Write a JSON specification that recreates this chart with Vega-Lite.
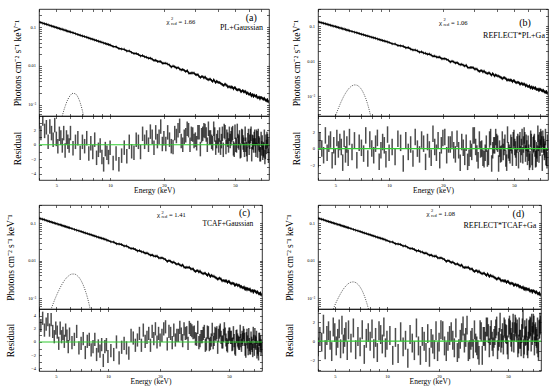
{
"$schema":"https://vega.github.io/schema/vega-lite/v6.json",
"padding":{"left":4,"top":6,"right":0,"bottom":0},
"autosize":{"type":"pad"},
"config":{
 "font":"Liberation Serif",
 "view":{"stroke":"black","strokeWidth":0.8},
 "axis":{"domain":false,"grid":false,"tickSize":-2.5,"tickColor":"black","tickWidth":0.6,"labelFontSize":4.5,"labelColor":"black","labelFont":"Liberation Serif","titleFont":"Liberation Serif","titleFontWeight":"normal","titleColor":"black","labelOverlap":false,"labelFlush":false},
 "text":{"font":"Liberation Serif","color":"black"}
},
"datasets":{
"s":[
{"e":4,"f":0.135,"a":3.2,"b":-1.3,"c":4.7,"d":-0.6},
{"e":4.1,"f":0.130,"a":1.6,"b":1.0,"c":2.5,"d":0.5},
{"e":4.2,"f":0.1257,"a":3.6,"b":0.0,"c":3.6,"d":-0.1},
{"e":4.3,"f":0.1215,"a":1.9,"b":-0.8,"c":1.8,"d":1.8},
{"e":4.4,"f":0.1175,"a":2.4,"b":1.6,"c":2.7,"d":-0.9},
{"e":4.5,"f":0.1137,"a":0.4,"b":-0.5,"c":3.4,"d":0.6},
{"e":4.6,"f":0.1101,"a":2.5,"b":0.6,"c":1.8,"d":1.1},
{"e":4.7,"f":0.1066,"a":1.6,"b":1.1,"c":3.4,"d":0.1},
{"e":4.8,"f":0.1034,"a":0.7,"b":-1.4,"c":1.6,"d":-1.1},
{"e":4.9,"f":0.1003,"a":2.7,"b":0.4,"c":0.8,"d":1.5},
{"e":5.0,"f":0.0974,"a":0.8,"b":-1.0,"c":2.1,"d":0.9},
{"e":5.1,"f":0.0946,"a":-0.2,"b":1.3,"c":1.5,"d":-0.5},
{"e":5.2,"f":0.0919,"a":1.5,"b":-0.1,"c":-0.2,"d":0.3},
{"e":5.3,"f":0.0894,"a":1.0,"b":0.8,"c":2.1,"d":1.3},
{"e":5.4,"f":0.0870,"a":-0.1,"b":0.2,"c":0.8,"d":-0.8},
{"e":5.5,"f":0.0846,"a":1.6,"b":-1.7,"c":1.3,"d":1.7},
{"e":5.6,"f":0.0824,"a":-0.8,"b":1.2,"c":0.1,"d":-0.3},
{"e":5.7,"f":0.0803,"a":1.0,"b":-0.7,"c":1.8,"d":0.4},
{"e":5.8,"f":0.0782,"a":0.4,"b":0.5,"c":0.9,"d":1.0},
{"e":5.9,"f":0.0763,"a":-0.1,"b":-1.1,"c":-0.7,"d":-1.0},
{"e":6.0,"f":0.0744,"a":1.6,"b":1.4,"c":1.2,"d":1.2},
{"e":6.2,"f":0.0709,"a":-0.5,"b":-0.4,"c":-0.1,"d":-0.2},
{"e":6.4,"f":0.0676,"a":0.4,"b":1.0,"c":0.4,"d":1.4},
{"e":6.6,"f":0.0645,"a":0.9,"b":-1.4,"c":1.6,"d":-0.9},
{"e":6.8,"f":0.0617,"a":-1.1,"b":0.7,"c":-0.9,"d":0.5},
{"e":7.0,"f":0.0591,"a":0.4,"b":0.1,"c":-0.2,"d":-0.6},
{"e":7.2,"f":0.0567,"a":-0.2,"b":-0.6,"c":0.5,"d":1.2},
{"e":7.4,"f":0.0544,"a":0.9,"b":1.6,"c":-1.6,"d":-1.4},
{"e":7.6,"f":0.0522,"a":-1.2,"b":-1.2,"c":0.1,"d":0.3},
{"e":7.8,"f":0.0502,"a":0.2,"b":1.1,"c":0.4,"d":0.9},
{"e":8.0,"f":0.0484,"a":-1.0,"b":0.0,"c":-1.2,"d":0.0},
{"e":8.2,"f":0.0466,"a":0.7,"b":-0.8,"c":-0.7,"d":1.3},
{"e":8.4,"f":0.0449,"a":-1.8,"b":0.6,"c":0.4,"d":-0.8},
{"e":8.6,"f":0.0433,"a":-0.7,"b":1.3,"c":-1.9,"d":0.4},
{"e":8.8,"f":0.0418,"a":-0.1,"b":-1.6,"c":-0.6,"d":-1.2},
{"e":9.0,"f":0.0404,"a":-1.7,"b":-0.2,"c":-1.4,"d":1.1},
{"e":9.2,"f":0.0391,"a":-2.7,"b":0.8,"c":-0.4,"d":0.7},
{"e":9.4,"f":0.0379,"a":-0.6,"b":0.4,"c":-2.8,"d":-0.3},
{"e":9.6,"f":0.0367,"a":-1.1,"b":-1.3,"c":-0.7,"d":1.5},
{"e":9.8,"f":0.0355,"a":-1.7,"b":1.7,"c":-0.4,"d":-0.7},
{"e":10,"f":0.0344,"a":-0.4,"b":-0.5,"c":-2.2,"d":0.1},
{"e":10.4,"f":0.0316,"a":-2.5,"b":0.2,"c":-1.3,"d":0.6},
{"e":10.8,"f":0.0311,"a":-1.2,"b":-1.0,"c":-1.9,"d":-1.5},
{"e":11.2,"f":0.0279,"a":-2.7,"b":1.2,"c":0.0,"d":0.4},
{"e":11.6,"f":0.0274,"a":-1.5,"b":0.7,"c":-2.4,"d":-1.3},
{"e":12.0,"f":0.0267,"a":-0.4,"b":-1.8,"c":-0.8,"d":1.0},
{"e":12.4,"f":0.0243,"a":-1.6,"b":1.0,"c":-0.2,"d":-0.6},
{"e":12.8,"f":0.0244,"a":0.4,"b":-0.4,"c":-0.9,"d":0.1},
{"e":13.2,"f":0.0223,"a":-0.9,"b":0.5,"c":-1.7,"d":-1.8},
{"e":13.6,"f":0.0208,"a":-1.1,"b":-1.2,"c":1.0,"d":0.7},
{"e":14.0,"f":0.0209,"a":0.7,"b":1.4,"c":0.6,"d":-0.2},
{"e":14.4,"f":0.0197,"a":0.4,"b":0.0,"c":-0.5,"d":-1.0},
{"e":14.8,"f":0.0180,"a":-1.0,"b":-0.7,"c":0.3,"d":1.4},
{"e":15.2,"f":0.0185,"a":1.5,"b":1.1,"c":1.3,"d":-0.5},
{"e":15.6,"f":0.0172,"a":0.4,"b":0.6,"c":-0.5,"d":-1.5},
{"e":16.0,"f":0.0168,"a":1.0,"b":-1.6,"c":1.8,"d":0.5},
{"e":16.4,"f":0.0157,"a":0.0,"b":0.8,"c":0.1,"d":0.0},
{"e":16.8,"f":0.0159,"a":1.8,"b":-0.1,"c":0.7,"d":-1.2},
{"e":17.2,"f":0.0149,"a":1.1,"b":-1.1,"c":1.3,"d":0.8},
{"e":17.6,"f":0.0138,"a":-0.4,"b":1.8,"c":-0.5,"d":-1.7},
{"e":18.0,"f":0.0141,"a":1.7,"b":0.2,"c":1.6,"d":0.3},
{"e":18.4,"f":0.0131,"a":0.5,"b":-0.5,"c":0.5,"d":-0.3},
{"e":18.8,"f":0.0130,"a":1.1,"b":1.0,"c":2.0,"d":-0.9},
{"e":19.2,"f":0.0131,"a":2.5,"b":-1.4,"c":0.0,"d":1.1},
{"e":19.6,"f":0.0118,"a":0.1,"b":0.4,"c":1.3,"d":-1.1},
{"e":20,"f":0.0117,"a":0.9,"b":1.3,"c":0.3,"d":-0.1},
{"e":21,"f":0.0112,"a":1.7,"b":-0.8,"c":2.0,"d":1.1},
{"e":22,"f":0.00939,"a":-0.2,"b":0.5,"c":-0.3,"d":-1.1},
{"e":23,"f":0.00958,"a":1.6,"b":-0.2,"c":1.3,"d":0.6},
{"e":24,"f":0.00912,"a":2.0,"b":1.2,"c":1.8,"d":0.1},
{"e":25,"f":0.00793,"a":0.5,"b":-1.7,"c":1.0,"d":1.4},
{"e":26,"f":0.00768,"a":1.1,"b":0.1,"c":2.2,"d":-0.8},
{"e":27,"f":0.00765,"a":2.2,"b":0.7,"c":0.2,"d":0.9},
{"e":28,"f":0.00647,"a":0.0,"b":-1.1,"c":1.3,"d":-0.2},
{"e":29,"f":0.00656,"a":1.4,"b":-0.4,"c":-0.2,"d":1.7},
{"e":30,"f":0.00600,"a":0.7,"b":1.6,"c":1.9,"d":-0.9},
{"e":31,"f":0.00600,"a":1.7,"b":-0.6,"c":1.4,"d":0.4},
{"e":32,"f":0.00507,"a":-0.6,"b":1.1,"c":0.5,"d":1.2},
{"e":33,"f":0.00538,"a":1.5,"b":0.0,"c":2.2,"d":-0.5},
{"e":34,"f":0.00522,"a":1.9,"b":-1.3,"c":0.2,"d":-1.5},
{"e":35,"f":0.00455,"a":0.0,"b":0.6,"c":0.8,"d":1.0},
{"e":36,"f":0.00457,"a":1.0,"b":-1.0,"c":1.6,"d":0.5},
{"e":37,"f":0.00423,"a":0.4,"b":1.4,"c":-0.3,"d":0.0},
{"e":38,"f":0.00443,"a":2.2,"b":-0.2,"c":1.4,"d":1.5},
{"e":39,"f":0.00374,"a":-0.4,"b":0.4,"c":-0.2,"d":-0.7},
{"e":40,"f":0.00386,"a":1.0,"b":0.8,"c":1.9,"d":1.2},
{"e":41,"f":0.00378,"a":1.4,"b":-1.8,"c":0.4,"d":-0.6},
{"e":42,"f":0.00347,"a":0.5,"b":-0.7,"c":1.1,"d":0.6},
{"e":43,"f":0.00315,"a":-0.7,"b":1.1,"c":-0.8,"d":1.6},
{"e":44,"f":0.00343,"a":1.7,"b":0.2,"c":1.5,"d":0.0},
{"e":45,"f":0.00321,"a":1.1,"b":-1.2,"c":0.7,"d":2.0},
{"e":46,"f":0.00291,"a":-0.1,"b":1.7,"c":0.0,"d":0.3},
{"e":47,"f":0.00291,"a":0.5,"b":-0.5,"c":2.0,"d":-0.4},
{"e":48,"f":0.00294,"a":1.4,"b":0.7,"c":0.3,"d":1.3},
{"e":49,"f":0.00258,"a":-0.5,"b":-1.1,"c":-0.6,"d":0.7},
{"e":50,"f":0.00280,"a":1.8,"b":1.3,"c":1.2,"d":-0.9},
{"e":51,"f":0.00248,"a":-0.1,"b":-0.1,"c":0.7,"d":1.7},
{"e":52,"f":0.00247,"a":0.5,"b":0.5,"c":-0.4,"d":0.4},
{"e":53,"f":0.00245,"a":1.0,"b":-1.4,"c":1.4,"d":1.0},
{"e":54,"f":0.00217,"a":-0.8,"b":1.0,"c":-0.9,"d":-0.2},
{"e":55,"f":0.00233,"a":1.1,"b":0.2,"c":0.8,"d":1.8},
{"e":56,"f":0.00214,"a":0.0,"b":-0.8,"c":0.3,"d":0.9},
{"e":57,"f":0.00224,"a":1.5,"b":1.6,"c":-0.2,"d":-0.7},
{"e":58,"f":0.00196,"a":-0.6,"b":-0.6,"c":1.6,"d":1.5},
{"e":59,"f":0.00203,"a":0.6,"b":0.0,"c":-0.5,"d":0.2},
{"e":60,"f":0.00187,"a":-0.4,"b":0.6,"c":0.4,"d":0.8},
{"e":61,"f":0.00197,"a":1.2,"b":-1.6,"c":1.0,"d":2.3},
{"e":62,"f":0.00170,"a":-1.3,"b":1.2,"c":-1.1,"d":-0.4},
{"e":63,"f":0.00180,"a":0.3,"b":-1.0,"c":0.5,"d":0.5},
{"e":64,"f":0.00179,"a":0.8,"b":0.4,"c":0.0,"d":1.4},
{"e":65,"f":0.00168,"a":-0.1,"b":0.8,"c":1.1,"d":-0.8},
{"e":66,"f":0.00174,"a":1.1,"b":-1.3,"c":-0.9,"d":1.2},
{"e":67,"f":0.00154,"a":-0.8,"b":-0.2,"c":0.6,"d":1.6},
{"e":68,"f":0.00158,"a":0.2,"b":1.8,"c":-0.5,"d":-0.1},
{"e":69,"f":0.00144,"a":-1.3,"b":-0.7,"c":1.3,"d":0.6},
{"e":70,"f":0.00156,"a":0.8,"b":0.1,"c":-1.1,"d":1.9},
{"e":71,"f":0.00149,"a":0.3,"b":1.1,"c":0.0,"d":-0.5},
{"e":72,"f":0.00139,"a":-0.6,"b":-1.7,"c":0.7,"d":1.0},
{"e":73,"f":0.00148,"a":1.1,"b":0.5,"c":-0.8,"d":0.3},
{"e":74,"f":0.00131,"a":-1.0,"b":-0.4,"c":-1.8,"d":1.5},
{"e":75,"f":0.00132,"a":-0.3,"b":1.4,"c":0.4,"d":-1.1},
{"e":76,"f":0.00135,"a":0.5,"b":-1.1,"c":0.0,"d":1.3},
{"e":77,"f":0.00120,"a":-1.5,"b":0.7,"c":-0.6,"d":1.7},
{"e":20.5,"f":0.0118,"a":0.1,"b":1.4,"c":1.0,"d":1.2},
{"e":21.5,"f":0.0106,"a":0.7,"b":0.5,"c":2.3,"d":-0.5},
{"e":22.5,"f":0.0100,"a":-0.3,"b":1.1,"c":1.6,"d":0.0},
{"e":23.5,"f":0.00881,"a":1.2,"b":-0.7,"c":-0.1,"d":1.0},
{"e":24.5,"f":0.00838,"a":2.6,"b":-0.2,"c":0.3,"d":-0.7},
{"e":25.5,"f":0.00815,"a":0.0,"b":0.8,"c":1.0,"d":-1.2},
{"e":26.5,"f":0.00721,"a":1.3,"b":-1.0,"c":1.2,"d":0.2},
{"e":27.5,"f":0.00665,"a":2.0,"b":-1.6,"c":2.0,"d":1.6},
{"e":28.5,"f":0.00662,"a":1.5,"b":0.0,"c":1.4,"d":0.4},
{"e":29.5,"f":0.00659,"a":0.5,"b":1.6,"c":2.2,"d":-1.1},
{"e":30.5,"f":0.00598,"a":0.2,"b":0.2,"c":1.7,"d":0.1},
{"e":31.5,"f":0.00535,"a":1.7,"b":-1.4,"c":1.5,"d":-0.8},
{"e":32.5,"f":0.00533,"a":1.3,"b":-0.1,"c":0.4,"d":-0.2},
{"e":33.5,"f":0.00491,"a":2.0,"b":-1.1,"c":-0.1,"d":-0.9},
{"e":34.5,"f":0.00477,"a":1.4,"b":-0.5,"c":0.8,"d":1.2},
{"e":35.5,"f":0.00444,"a":2.2,"b":-1.2,"c":1.3,"d":-1.5},
{"e":36.5,"f":0.00458,"a":1.0,"b":1.1,"c":-0.5,"d":0.5},
{"e":37.5,"f":0.00398,"a":0.2,"b":-1.8,"c":1.5,"d":1.5},
{"e":38.5,"f":0.00410,"a":1.4,"b":0.4,"c":-0.4,"d":0.8},
{"e":39.5,"f":0.00407,"a":0.5,"b":1.4,"c":0.3,"d":0.6},
{"e":40.5,"f":0.00379,"a":-0.1,"b":0.6,"c":-0.1,"d":0.0},
{"e":41.5,"f":0.00358,"a":-0.4,"b":0.0,"c":1.3,"d":0.3},
{"e":42.5,"f":0.00337,"a":1.5,"b":-0.6,"c":1.4,"d":1.3},
{"e":43.5,"f":0.00327,"a":1.9,"b":-0.4,"c":1.0,"d":-0.9},
{"e":44.5,"f":0.00327,"a":-0.3,"b":0.7,"c":1.8,"d":0.4},
{"e":45.5,"f":0.00290,"a":0.7,"b":-1.7,"c":0.0,"d":-0.2},
{"e":46.5,"f":0.00294,"a":1.5,"b":-0.2,"c":1.0,"d":0.9},
{"e":47.5,"f":0.00278,"a":0.9,"b":-0.8,"c":1.2,"d":1.5},
{"e":48.5,"f":0.00279,"a":1.6,"b":0.4,"c":-0.4,"d":0.8},
{"e":49.5,"f":0.00276,"a":-0.7,"b":1.0,"c":0.7,"d":-0.4},
{"e":50.5,"f":0.00260,"a":0.0,"b":0.2,"c":1.2,"d":1.4},
{"e":51.5,"f":0.00241,"a":1.9,"b":-1.1,"c":0.7,"d":1.2},
{"e":52.5,"f":0.00249,"a":0.3,"b":0.8,"c":-0.3,"d":-0.1},
{"e":53.5,"f":0.00239,"a":-0.9,"b":0.6,"c":0.2,"d":1.9},
{"e":54.5,"f":0.00222,"a":1.2,"b":-0.7,"c":-1.1,"d":1.0},
{"e":55.5,"f":0.00231,"a":0.3,"b":1.4,"c":0.9,"d":1.5},
{"e":56.5,"f":0.00217,"a":-0.7,"b":0.5,"c":0.0,"d":1.3},
{"e":57.5,"f":0.00215,"a":0.0,"b":1.0,"c":-0.2,"d":-0.3},
{"e":58.5,"f":0.00207,"a":-1.3,"b":0.7,"c":0.2,"d":0.2},
{"e":59.5,"f":0.00190,"a":1.2,"b":-1.0,"c":0.7,"d":-0.6},
{"e":60.5,"f":0.00187,"a":0.4,"b":-0.5,"c":1.4,"d":1.4},
{"e":61.5,"f":0.00177,"a":1.5,"b":-1.3,"c":0.4,"d":-0.8},
{"e":62.5,"f":0.00185,"a":0.4,"b":0.8,"c":-1.4,"d":1.2},
{"e":63.5,"f":0.00166,"a":-0.1,"b":-1.6,"c":1.0,"d":0.6},
{"e":64.5,"f":0.00174,"a":1.1,"b":0.6,"c":-1.0,"d":-0.5},
{"e":65.5,"f":0.00167,"a":-0.7,"b":0.0,"c":-0.4,"d":0.0},
{"e":66.5,"f":0.00156,"a":0.9,"b":-1.2,"c":-0.9,"d":1.3},
{"e":67.5,"f":0.00155,"a":1.2,"b":-0.6,"c":-0.2,"d":1.5},
{"e":68.5,"f":0.00158,"a":0.0,"b":0.7,"c":-1.3,"d":1.9},
{"e":69.5,"f":0.00156,"a":-1.3,"b":1.0,"c":0.1,"d":1.0},
{"e":70.5,"f":0.00154,"a":-0.5,"b":1.4,"c":1.1,"d":1.7},
{"e":71.5,"f":0.00145,"a":-1.1,"b":0.5,"c":-0.2,"d":0.8},
{"e":72.5,"f":0.00146,"a":-0.8,"b":1.2,"c":-1.5,"d":0.5},
{"e":73.5,"f":0.00138,"a":-1.7,"b":0.2,"c":-1.1,"d":-0.3},
{"e":74.5,"f":0.00133,"a":0.4,"b":-0.1,"c":0.4,"d":-0.7},
{"e":75.5,"f":0.00127,"a":0.8,"b":-1.0,"c":-0.5,"d":1.2},
{"e":76.5,"f":0.00122,"a":-0.1,"b":-1.4,"c":-1.0,"d":2.0}
],
"g":[
{"e":4.4,"ga":3.6e-6,"gb":3.2e-5,"gc":2.1e-4,"gd":1.34e-4},
{"e":4.6,"ga":1.3e-5,"gb":7.0e-5,"gc":3.85e-4,"gd":2.4e-4},
{"e":4.8,"ga":4.1e-5,"gb":1.41e-4,"gc":6.59e-4,"gd":4.03e-4},
{"e":5.0,"ga":1.11e-4,"gb":2.61e-4,"gc":1.06e-3,"gd":6.36e-4},
{"e":5.2,"ga":2.61e-4,"gb":4.45e-4,"gc":1.58e-3,"gd":9.42e-4},
{"e":5.4,"ga":5.26e-4,"gb":7.03e-4,"gc":2.22e-3,"gd":1.31e-3},
{"e":5.6,"ga":9.16e-4,"gb":1.03e-3,"gc":2.91e-3,"gd":1.72e-3},
{"e":5.8,"ga":1.38e-3,"gb":1.38e-3,"gc":3.56e-3,"gd":2.11e-3},
{"e":6.0,"ga":1.78e-3,"gb":1.72e-3,"gc":4.07e-3,"gd":2.44e-3},
{"e":6.2,"ga":1.99e-3,"gb":1.97e-3,"gc":4.36e-3,"gd":2.64e-3},
{"e":6.4,"ga":1.92e-3,"gb":2.09e-3,"gc":4.36e-3,"gd":2.69e-3},
{"e":6.6,"ga":1.6e-3,"gb":2.05e-3,"gc":4.07e-3,"gd":2.58e-3},
{"e":6.8,"ga":1.14e-3,"gb":1.86e-3,"gc":3.56e-3,"gd":2.32e-3},
{"e":7.0,"ga":7.07e-4,"gb":1.56e-3,"gc":2.91e-3,"gd":1.96e-3},
{"e":7.2,"ga":3.77e-4,"gb":1.2e-3,"gc":2.22e-3,"gd":1.56e-3},
{"e":7.4,"ga":1.73e-4,"gb":8.57e-4,"gc":1.58e-3,"gd":1.16e-3},
{"e":7.6,"ga":6.9e-5,"gb":5.65e-4,"gc":1.06e-3,"gd":8.11e-4},
{"e":7.8,"ga":2.4e-5,"gb":3.44e-4,"gc":6.59e-4,"gd":5.33e-4},
{"e":8.0,"ga":7e-6,"gb":1.94e-4,"gc":3.85e-4,"gd":3.3e-4},
{"e":8.2,"ga":1.8e-6,"gb":1.0e-4,"gc":2.1e-4,"gd":1.91e-4},
{"e":8.4,"ga":4e-7,"gb":4.8e-5,"gc":1.07e-4,"gd":1.04e-4}
]
},
"spacing":6,
"vconcat":[
{"spacing":20,"hconcat":[
{"spacing":0,"bounds":"flush","vconcat":[
 {"width":230,"height":107,"layer":[
  {"data":{"name":"s"},"mark":{"type":"line","color":"black","strokeWidth":1.5,"clip":true},
   "encoding":{"x":{"field":"e","type":"quantitative","scale":{"type":"log","domain":[4,77.5],"nice":false},"axis":{"orient":"bottom","values":[4,5,6,7,8,9,10,20,30,40,50,60,70],"labels":false,"title":null,"minExtent":0,"maxExtent":0}},
   "y":{"field":"f","type":"quantitative","scale":{"type":"log","domain":[0.00052,0.29],"nice":false},"axis":{"orient":"left","values":[0.0006,0.0007,0.0008,0.0009,0.001,0.002,0.003,0.004,0.005,0.006,0.007,0.008,0.009,0.01,0.02,0.03,0.04,0.05,0.06,0.07,0.08,0.09,0.1,0.2],"labelExpr":"datum.value == 0.1 ? '0.1' : datum.value == 0.01 ? '0.01' : datum.value == 0.001 ? '10⁻³' : ''","title":"Photons cm⁻² s⁻¹ keV⁻¹","titleFontSize":9.5,"minExtent":14,"maxExtent":14,"titlePadding":3,"labelPadding":6}}}},
  {"data":{"name":"s"},"mark":{"type":"tick","orient":"vertical","size":3,"thickness":0.8,"color":"black","clip":true},
   "encoding":{"x":{"field":"e","type":"quantitative","axis":{"orient":"top","values":[4,5,6,7,8,9,10,20,30,40,50,60,70],"labels":false,"title":null,"minExtent":0,"maxExtent":0}},
   "y":{"field":"f","type":"quantitative","axis":{"orient":"right","values":[0.0006,0.0007,0.0008,0.0009,0.001,0.002,0.003,0.004,0.005,0.006,0.007,0.008,0.009,0.01,0.02,0.03,0.04,0.05,0.06,0.07,0.08,0.09,0.1,0.2],"labels":false,"title":null,"minExtent":0,"maxExtent":0}}}},
  {"data":{"name":"g"},"mark":{"type":"line","color":"black","strokeWidth":0.7,"strokeDash":[1,1.3],"interpolate":"monotone","clip":true},
   "encoding":{"x":{"field":"e","type":"quantitative","axis":null},"y":{"field":"ga","type":"quantitative","axis":null}}},
  {"data":{"values":[{"e":20.7,"f":0.135}]},"mark":{"type":"text","text":"χ","fontSize":7,"align":"left","baseline":"middle"},"encoding":{"x":{"field":"e","type":"quantitative","axis":null},"y":{"field":"f","type":"quantitative","axis":null}}},
  {"data":{"values":[{"e":20.7,"f":0.135}]},"mark":{"type":"text","text":"red","fontSize":4.5,"align":"left","baseline":"middle","dx":4.5,"dy":2},"encoding":{"x":{"field":"e","type":"quantitative","axis":null},"y":{"field":"f","type":"quantitative","axis":null}}},
  {"data":{"values":[{"e":20.7,"f":0.135}]},"mark":{"type":"text","text":"2","fontSize":4.5,"align":"left","baseline":"middle","dx":4.5,"dy":-2.5},"encoding":{"x":{"field":"e","type":"quantitative","axis":null},"y":{"field":"f","type":"quantitative","axis":null}}},
  {"data":{"values":[{"e":20.7,"f":0.135}]},"mark":{"type":"text","text":"= 1.66","fontSize":6.5,"align":"left","baseline":"middle","dx":12},"encoding":{"x":{"field":"e","type":"quantitative","axis":null},"y":{"field":"f","type":"quantitative","axis":null}}},
  {"data":{"values":[{"e":61.6,"f":0.17}]},"mark":{"type":"text","text":"(a)","fontSize":10,"align":"center","baseline":"middle"},"encoding":{"x":{"field":"e","type":"quantitative","axis":null},"y":{"field":"f","type":"quantitative","axis":null}}},
  {"data":{"values":[{"e":71.8,"f":0.0944}]},"mark":{"type":"text","text":"PL+Gaussian","fontSize":8,"align":"right","baseline":"middle"},"encoding":{"x":{"field":"e","type":"quantitative","axis":null},"y":{"field":"f","type":"quantitative","axis":null}}}
 ]},
 {"width":230,"height":64,"layer":[
  {"data":{"name":"s"},"mark":{"type":"tick","orient":"vertical","size":14.5,"thickness":1.5,"color":"black","clip":true},
   "encoding":{"x":{"field":"e","type":"quantitative","scale":{"type":"log","domain":[4,77.5],"nice":false},"axis":{"orient":"bottom","values":[4,5,6,7,8,9,10,20,30,40,50,60,70],"format":"d","labelExpr":"datum.value == 5 || datum.value == 10 || datum.value == 20 || datum.value == 50 ? datum.label : ''","title":"Energy (keV)","titleFontSize":7.5,"labelPadding":4.5,"titlePadding":0}},
   "y":{"field":"a","type":"quantitative","scale":{"domain":[-4.85,3.95],"nice":false,"zero":false},"axis":{"orient":"left","values":[-4,-3,-2,-1,0,1,2,3],"labelExpr":"datum.value % 2 == 0 ? datum.label : ''","title":"Residual","titleFontSize":9.5,"minExtent":14,"maxExtent":14,"titlePadding":3,"labelPadding":6}}}},
  {"data":{"name":"s"},"mark":{"type":"point","opacity":0,"clip":true},
   "encoding":{"x":{"field":"e","type":"quantitative","axis":{"orient":"top","values":[4,5,6,7,8,9,10,20,30,40,50,60,70],"labels":false,"title":null,"minExtent":0,"maxExtent":0}},
   "y":{"field":"a","type":"quantitative","axis":{"orient":"right","values":[-4,-3,-2,-1,0,1,2,3],"labels":false,"title":null,"minExtent":0,"maxExtent":0}}}},
  {"data":{"values":[{}]},"mark":{"type":"rule","color":"#33cc33","strokeWidth":1.2},"encoding":{"y":{"datum":0,"axis":null}}}
 ]}
]},
{"spacing":0,"bounds":"flush","vconcat":[
 {"width":230,"height":107,"layer":[
  {"data":{"name":"s"},"mark":{"type":"line","color":"black","strokeWidth":1.5,"clip":true},
   "encoding":{"x":{"field":"e","type":"quantitative","scale":{"type":"log","domain":[4,77.5],"nice":false},"axis":{"orient":"bottom","values":[4,5,6,7,8,9,10,20,30,40,50,60,70],"labels":false,"title":null,"minExtent":0,"maxExtent":0}},
   "y":{"field":"f","type":"quantitative","scale":{"type":"log","domain":[0.00027,0.31],"nice":false},"axis":{"orient":"left","values":[0.0003,0.0004,0.0005,0.0006,0.0007,0.0008,0.0009,0.001,0.002,0.003,0.004,0.005,0.006,0.007,0.008,0.009,0.01,0.02,0.03,0.04,0.05,0.06,0.07,0.08,0.09,0.1,0.2,0.3],"labelExpr":"datum.value == 0.1 ? '0.1' : datum.value == 0.01 ? '0.01' : datum.value == 0.001 ? '10⁻³' : ''","title":"Photons cm⁻² s⁻¹ keV⁻¹","titleFontSize":9.5,"minExtent":14,"maxExtent":14,"titlePadding":3,"labelPadding":6}}}},
  {"data":{"name":"s"},"mark":{"type":"tick","orient":"vertical","size":3,"thickness":0.8,"color":"black","clip":true},
   "encoding":{"x":{"field":"e","type":"quantitative","axis":{"orient":"top","values":[4,5,6,7,8,9,10,20,30,40,50,60,70],"labels":false,"title":null,"minExtent":0,"maxExtent":0}},
   "y":{"field":"f","type":"quantitative","axis":{"orient":"right","values":[0.0003,0.0004,0.0005,0.0006,0.0007,0.0008,0.0009,0.001,0.002,0.003,0.004,0.005,0.006,0.007,0.008,0.009,0.01,0.02,0.03,0.04,0.05,0.06,0.07,0.08,0.09,0.1,0.2,0.3],"labels":false,"title":null,"minExtent":0,"maxExtent":0}}}},
  {"data":{"name":"g"},"mark":{"type":"line","color":"black","strokeWidth":0.7,"strokeDash":[1,1.3],"interpolate":"monotone","clip":true},
   "encoding":{"x":{"field":"e","type":"quantitative","axis":null},"y":{"field":"gb","type":"quantitative","axis":null}}},
  {"data":{"values":[{"e":19.0,"f":0.124}]},"mark":{"type":"text","text":"χ","fontSize":7,"align":"left","baseline":"middle"},"encoding":{"x":{"field":"e","type":"quantitative","axis":null},"y":{"field":"f","type":"quantitative","axis":null}}},
  {"data":{"values":[{"e":19.0,"f":0.124}]},"mark":{"type":"text","text":"red","fontSize":4.5,"align":"left","baseline":"middle","dx":4.5,"dy":2},"encoding":{"x":{"field":"e","type":"quantitative","axis":null},"y":{"field":"f","type":"quantitative","axis":null}}},
  {"data":{"values":[{"e":19.0,"f":0.124}]},"mark":{"type":"text","text":"2","fontSize":4.5,"align":"left","baseline":"middle","dx":4.5,"dy":-2.5},"encoding":{"x":{"field":"e","type":"quantitative","axis":null},"y":{"field":"f","type":"quantitative","axis":null}}},
  {"data":{"values":[{"e":19.0,"f":0.124}]},"mark":{"type":"text","text":"= 1.06","fontSize":6.5,"align":"left","baseline":"middle","dx":12},"encoding":{"x":{"field":"e","type":"quantitative","axis":null},"y":{"field":"f","type":"quantitative","axis":null}}},
  {"data":{"values":[{"e":57.6,"f":0.124}]},"mark":{"type":"text","text":"(b)","fontSize":10,"align":"center","baseline":"middle"},"encoding":{"x":{"field":"e","type":"quantitative","axis":null},"y":{"field":"f","type":"quantitative","axis":null}}},
  {"data":{"values":[{"e":74.5,"f":0.0533}]},"mark":{"type":"text","text":"REFLECT*PL+Ga","fontSize":8,"align":"right","baseline":"middle"},"encoding":{"x":{"field":"e","type":"quantitative","axis":null},"y":{"field":"f","type":"quantitative","axis":null}}}
 ]},
 {"width":230,"height":64,"layer":[
  {"data":{"name":"s"},"mark":{"type":"tick","orient":"vertical","size":16.5,"thickness":1.5,"color":"black","clip":true},
   "encoding":{"x":{"field":"e","type":"quantitative","scale":{"type":"log","domain":[4,77.5],"nice":false},"axis":{"orient":"bottom","values":[4,5,6,7,8,9,10,20,30,40,50,60,70],"format":"d","labelExpr":"datum.value == 5 || datum.value == 10 || datum.value == 20 || datum.value == 50 ? datum.label : ''","title":"Energy (keV)","titleFontSize":7.5,"labelPadding":4.5,"titlePadding":0}},
   "y":{"field":"b","type":"quantitative","scale":{"domain":[-3.8,3.95],"nice":false,"zero":false},"axis":{"orient":"left","values":[-3,-2,-1,0,1,2,3],"labelExpr":"datum.value % 2 == 0 ? datum.label : ''","title":"Residual","titleFontSize":9.5,"minExtent":14,"maxExtent":14,"titlePadding":3,"labelPadding":6}}}},
  {"data":{"name":"s"},"mark":{"type":"point","opacity":0,"clip":true},
   "encoding":{"x":{"field":"e","type":"quantitative","axis":{"orient":"top","values":[4,5,6,7,8,9,10,20,30,40,50,60,70],"labels":false,"title":null,"minExtent":0,"maxExtent":0}},
   "y":{"field":"b","type":"quantitative","axis":{"orient":"right","values":[-3,-2,-1,0,1,2,3],"labels":false,"title":null,"minExtent":0,"maxExtent":0}}}},
  {"data":{"values":[{}]},"mark":{"type":"rule","color":"#33cc33","strokeWidth":1.2},"encoding":{"y":{"datum":0,"axis":null}}}
 ]}
]}
]},
{"spacing":20,"hconcat":[
{"spacing":0,"bounds":"flush","vconcat":[
 {"width":223,"height":104,"layer":[
  {"data":{"name":"s"},"mark":{"type":"line","color":"black","strokeWidth":1.5,"clip":true},
   "encoding":{"x":{"field":"e","type":"quantitative","scale":{"type":"log","domain":[4,77.5],"nice":false},"axis":{"orient":"bottom","values":[4,5,6,7,8,9,10,20,30,40,50,60,70],"labels":false,"title":null,"minExtent":0,"maxExtent":0}},
   "y":{"field":"f","type":"quantitative","scale":{"type":"log","domain":[0.00051,0.302],"nice":false},"axis":{"orient":"left","values":[0.0006,0.0007,0.0008,0.0009,0.001,0.002,0.003,0.004,0.005,0.006,0.007,0.008,0.009,0.01,0.02,0.03,0.04,0.05,0.06,0.07,0.08,0.09,0.1,0.2,0.3],"labelExpr":"datum.value == 0.1 ? '0.1' : datum.value == 0.01 ? '0.01' : datum.value == 0.001 ? '10⁻³' : ''","title":"Photons cm⁻² s⁻¹ keV⁻¹","titleFontSize":9.5,"minExtent":21,"maxExtent":21,"titlePadding":3,"labelPadding":6}}}},
  {"data":{"name":"s"},"mark":{"type":"tick","orient":"vertical","size":3,"thickness":0.8,"color":"black","clip":true},
   "encoding":{"x":{"field":"e","type":"quantitative","axis":{"orient":"top","values":[4,5,6,7,8,9,10,20,30,40,50,60,70],"labels":false,"title":null,"minExtent":0,"maxExtent":0}},
   "y":{"field":"f","type":"quantitative","axis":{"orient":"right","values":[0.0006,0.0007,0.0008,0.0009,0.001,0.002,0.003,0.004,0.005,0.006,0.007,0.008,0.009,0.01,0.02,0.03,0.04,0.05,0.06,0.07,0.08,0.09,0.1,0.2,0.3],"labels":false,"title":null,"minExtent":0,"maxExtent":0}}}},
  {"data":{"name":"g"},"mark":{"type":"line","color":"black","strokeWidth":0.7,"strokeDash":[1,1.3],"interpolate":"monotone","clip":true},
   "encoding":{"x":{"field":"e","type":"quantitative","axis":null},"y":{"field":"gc","type":"quantitative","axis":null}}},
  {"data":{"values":[{"e":19.2,"f":0.163}]},"mark":{"type":"text","text":"χ","fontSize":7,"align":"left","baseline":"middle"},"encoding":{"x":{"field":"e","type":"quantitative","axis":null},"y":{"field":"f","type":"quantitative","axis":null}}},
  {"data":{"values":[{"e":19.2,"f":0.163}]},"mark":{"type":"text","text":"red","fontSize":4.5,"align":"left","baseline":"middle","dx":4.5,"dy":2},"encoding":{"x":{"field":"e","type":"quantitative","axis":null},"y":{"field":"f","type":"quantitative","axis":null}}},
  {"data":{"values":[{"e":19.2,"f":0.163}]},"mark":{"type":"text","text":"2","fontSize":4.5,"align":"left","baseline":"middle","dx":4.5,"dy":-2.5},"encoding":{"x":{"field":"e","type":"quantitative","axis":null},"y":{"field":"f","type":"quantitative","axis":null}}},
  {"data":{"values":[{"e":19.2,"f":0.163}]},"mark":{"type":"text","text":"= 1.41","fontSize":6.5,"align":"left","baseline":"middle","dx":12},"encoding":{"x":{"field":"e","type":"quantitative","axis":null},"y":{"field":"f","type":"quantitative","axis":null}}},
  {"data":{"values":[{"e":61.4,"f":0.185}]},"mark":{"type":"text","text":"(c)","fontSize":10,"align":"center","baseline":"middle"},"encoding":{"x":{"field":"e","type":"quantitative","axis":null},"y":{"field":"f","type":"quantitative","axis":null}}},
  {"data":{"values":[{"e":69.1,"f":0.094}]},"mark":{"type":"text","text":"TCAF+Gaussian","fontSize":7.5,"align":"right","baseline":"middle"},"encoding":{"x":{"field":"e","type":"quantitative","axis":null},"y":{"field":"f","type":"quantitative","axis":null}}}
 ]},
 {"width":223,"height":62,"layer":[
  {"data":{"name":"s"},"mark":{"type":"tick","orient":"vertical","size":13.2,"thickness":1.5,"color":"black","clip":true},
   "encoding":{"x":{"field":"e","type":"quantitative","scale":{"type":"log","domain":[4,77.5],"nice":false},"axis":{"orient":"bottom","values":[4,5,6,7,8,9,10,20,30,40,50,60,70],"format":"d","labelExpr":"datum.value == 5 || datum.value == 10 || datum.value == 20 || datum.value == 50 ? datum.label : ''","title":"Energy (keV)","titleFontSize":7.5,"labelPadding":4.5,"titlePadding":0}},
   "y":{"field":"c","type":"quantitative","scale":{"domain":[-4.4,5.0],"nice":false,"zero":false},"axis":{"orient":"left","values":[-4,-3,-2,-1,0,1,2,3,4],"labelExpr":"datum.value % 2 == 0 ? datum.label : ''","title":"Residual","titleFontSize":9.5,"minExtent":21,"maxExtent":21,"titlePadding":3,"labelPadding":6}}}},
  {"data":{"name":"s"},"mark":{"type":"point","opacity":0,"clip":true},
   "encoding":{"x":{"field":"e","type":"quantitative","axis":{"orient":"top","values":[4,5,6,7,8,9,10,20,30,40,50,60,70],"labels":false,"title":null,"minExtent":0,"maxExtent":0}},
   "y":{"field":"c","type":"quantitative","axis":{"orient":"right","values":[-4,-3,-2,-1,0,1,2,3,4],"labels":false,"title":null,"minExtent":0,"maxExtent":0}}}},
  {"data":{"values":[{}]},"mark":{"type":"rule","color":"#33cc33","strokeWidth":1.2},"encoding":{"y":{"datum":0,"axis":null}}}
 ]}
]},
{"spacing":0,"bounds":"flush","vconcat":[
 {"width":223,"height":104,"layer":[
  {"data":{"name":"s"},"mark":{"type":"line","color":"black","strokeWidth":1.5,"clip":true},
   "encoding":{"x":{"field":"e","type":"quantitative","scale":{"type":"log","domain":[4,77.5],"nice":false},"axis":{"orient":"bottom","values":[4,5,6,7,8,9,10,20,30,40,50,60,70],"labels":false,"title":null,"minExtent":0,"maxExtent":0}},
   "y":{"field":"f","type":"quantitative","scale":{"type":"log","domain":[0.00051,0.302],"nice":false},"axis":{"orient":"left","values":[0.0006,0.0007,0.0008,0.0009,0.001,0.002,0.003,0.004,0.005,0.006,0.007,0.008,0.009,0.01,0.02,0.03,0.04,0.05,0.06,0.07,0.08,0.09,0.1,0.2,0.3],"labelExpr":"datum.value == 0.1 ? '0.1' : datum.value == 0.01 ? '0.01' : datum.value == 0.001 ? '10⁻³' : ''","title":"Photons cm⁻² s⁻¹ keV⁻¹","titleFontSize":9.5,"minExtent":21,"maxExtent":21,"titlePadding":3,"labelPadding":6}}}},
  {"data":{"name":"s"},"mark":{"type":"tick","orient":"vertical","size":3,"thickness":0.8,"color":"black","clip":true},
   "encoding":{"x":{"field":"e","type":"quantitative","axis":{"orient":"top","values":[4,5,6,7,8,9,10,20,30,40,50,60,70],"labels":false,"title":null,"minExtent":0,"maxExtent":0}},
   "y":{"field":"f","type":"quantitative","axis":{"orient":"right","values":[0.0006,0.0007,0.0008,0.0009,0.001,0.002,0.003,0.004,0.005,0.006,0.007,0.008,0.009,0.01,0.02,0.03,0.04,0.05,0.06,0.07,0.08,0.09,0.1,0.2,0.3],"labels":false,"title":null,"minExtent":0,"maxExtent":0}}}},
  {"data":{"name":"g"},"mark":{"type":"line","color":"black","strokeWidth":0.7,"strokeDash":[1,1.3],"interpolate":"monotone","clip":true},
   "encoding":{"x":{"field":"e","type":"quantitative","axis":null},"y":{"field":"gd","type":"quantitative","axis":null}}},
  {"data":{"values":[{"e":16.9,"f":0.174}]},"mark":{"type":"text","text":"χ","fontSize":7,"align":"left","baseline":"middle"},"encoding":{"x":{"field":"e","type":"quantitative","axis":null},"y":{"field":"f","type":"quantitative","axis":null}}},
  {"data":{"values":[{"e":16.9,"f":0.174}]},"mark":{"type":"text","text":"red","fontSize":4.5,"align":"left","baseline":"middle","dx":4.5,"dy":2},"encoding":{"x":{"field":"e","type":"quantitative","axis":null},"y":{"field":"f","type":"quantitative","axis":null}}},
  {"data":{"values":[{"e":16.9,"f":0.174}]},"mark":{"type":"text","text":"2","fontSize":4.5,"align":"left","baseline":"middle","dx":4.5,"dy":-2.5},"encoding":{"x":{"field":"e","type":"quantitative","axis":null},"y":{"field":"f","type":"quantitative","axis":null}}},
  {"data":{"values":[{"e":16.9,"f":0.174}]},"mark":{"type":"text","text":"= 1.08","fontSize":6.5,"align":"left","baseline":"middle","dx":12},"encoding":{"x":{"field":"e","type":"quantitative","axis":null},"y":{"field":"f","type":"quantitative","axis":null}}},
  {"data":{"values":[{"e":57.4,"f":0.174}]},"mark":{"type":"text","text":"(d)","fontSize":10,"align":"center","baseline":"middle"},"encoding":{"x":{"field":"e","type":"quantitative","axis":null},"y":{"field":"f","type":"quantitative","axis":null}}},
  {"data":{"values":[{"e":72.9,"f":0.083}]},"mark":{"type":"text","text":"REFLECT*TCAF+Ga","fontSize":8,"align":"right","baseline":"middle"},"encoding":{"x":{"field":"e","type":"quantitative","axis":null},"y":{"field":"f","type":"quantitative","axis":null}}}
 ]},
 {"width":223,"height":62,"layer":[
  {"data":{"name":"s"},"mark":{"type":"tick","orient":"vertical","size":18.9,"thickness":1.5,"color":"black","clip":true},
   "encoding":{"x":{"field":"e","type":"quantitative","scale":{"type":"log","domain":[4,77.5],"nice":false},"axis":{"orient":"bottom","values":[4,5,6,7,8,9,10,20,30,40,50,60,70],"format":"d","labelExpr":"datum.value == 5 || datum.value == 10 || datum.value == 20 || datum.value == 50 ? datum.label : ''","title":"Energy (keV)","titleFontSize":7.5,"labelPadding":4.5,"titlePadding":0}},
   "y":{"field":"d","type":"quantitative","scale":{"domain":[-3.15,3.4],"nice":false,"zero":false},"axis":{"orient":"left","values":[-3,-2,-1,0,1,2,3],"labelExpr":"datum.value % 2 == 0 ? datum.label : ''","title":"Residual","titleFontSize":9.5,"minExtent":21,"maxExtent":21,"titlePadding":3,"labelPadding":6}}}},
  {"data":{"name":"s"},"mark":{"type":"point","opacity":0,"clip":true},
   "encoding":{"x":{"field":"e","type":"quantitative","axis":{"orient":"top","values":[4,5,6,7,8,9,10,20,30,40,50,60,70],"labels":false,"title":null,"minExtent":0,"maxExtent":0}},
   "y":{"field":"d","type":"quantitative","axis":{"orient":"right","values":[-3,-2,-1,0,1,2,3],"labels":false,"title":null,"minExtent":0,"maxExtent":0}}}},
  {"data":{"values":[{}]},"mark":{"type":"rule","color":"#33cc33","strokeWidth":1.2},"encoding":{"y":{"datum":0,"axis":null}}}
 ]}
]}
]}
]
}
